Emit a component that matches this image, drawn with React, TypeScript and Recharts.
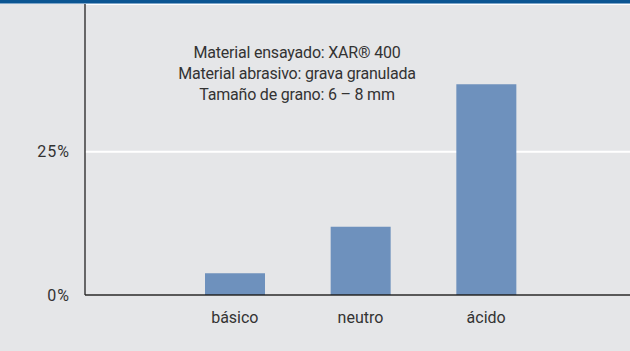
import { Bar, BarChart, CartesianGrid, XAxis, YAxis } from "recharts";

const categories = ["básico", "neutro", "ácido"];
const wear = [3.8, 11.9, 36.8];
const yTicks = [0, 25];
const noteLines = [
  "Material ensayado: XAR® 400",
  "Material abrasivo: grava granulada",
  "Tamaño de grano: 6 – 8 mm",
];

const data = categories.map((name, i) => ({ name, value: wear[i] }));

const FONT = "Roboto, 'Liberation Sans', sans-serif";

export default function App() {
  return (
    <div
      style={{
        position: "fixed",
        left: 0,
        top: 0,
        width: 630,
        height: 351,
        background: "#e5e6e8",
        fontFamily: FONT,
      }}
    >
      <div
        style={{
          position: "absolute",
          left: 0,
          top: 0,
          width: 630,
          height: 3,
          background: "#0b5592",
          borderBottom: "1px solid #7ea6c9",
          zIndex: 2,
        }}
      />
      <BarChart
        width={630}
        height={351}
        data={data}
        margin={{ top: 4, right: 0, bottom: 26, left: 0 }}
      >
        <CartesianGrid vertical={false} stroke="#ffffff" strokeWidth={2} />
        <XAxis
          dataKey="name"
          height={30}
          padding={{ left: 87, right: 81 }}
          tickLine={false}
          tickSize={0}
          tickMargin={17}
          axisLine={{ stroke: "#222", strokeWidth: 1.3 }}
          tick={{ fill: "#333", fontSize: 16, fontFamily: FONT }}
        />
        <YAxis
          width={85}
          domain={[0, 50.8]}
          ticks={yTicks}
          allowDataOverflow
          tickFormatter={(v) => `${v}%`}
          tickLine={false}
          tickSize={0}
          tickMargin={15}
          axisLine={{ stroke: "#222", strokeWidth: 1.3 }}
          tick={{ fill: "#333", fontSize: 16, fontFamily: FONT, letterSpacing: 1 }}
        />
        <Bar dataKey="value" fill="#6e91bd" barSize={60} isAnimationActive={false} />
      </BarChart>
      <div
        style={{
          position: "absolute",
          left: 197,
          top: 42,
          width: 200,
          textAlign: "center",
          color: "#333",
          fontSize: 16,
          letterSpacing: -0.2,
          lineHeight: "21px",
          whiteSpace: "nowrap",
          display: "flex",
          flexDirection: "column",
          alignItems: "center",
        }}
      >
        {noteLines.map((line) => (
          <div key={line}>{line}</div>
        ))}
      </div>
    </div>
  );
}
